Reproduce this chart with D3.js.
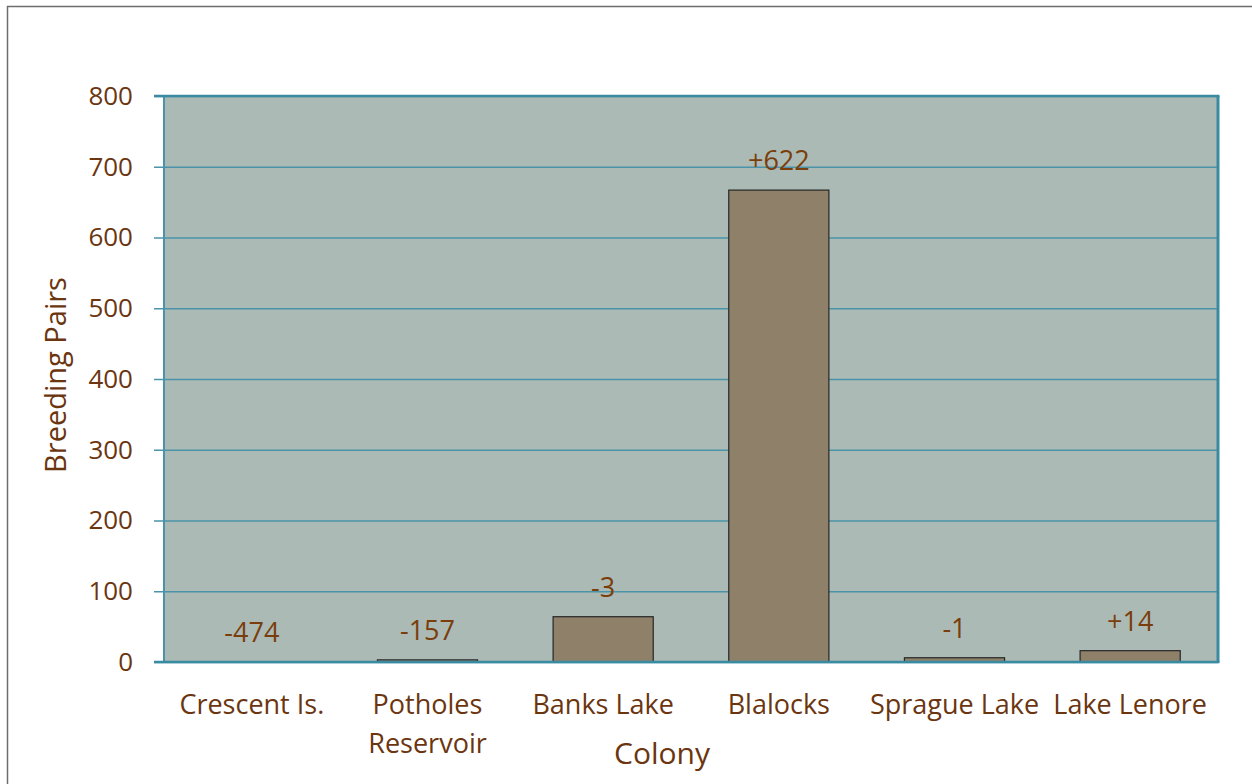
<!DOCTYPE html>
<html>
<head>
<meta charset="utf-8">
<script src="https://cdn.jsdelivr.net/npm/d3@7"></script>
<style>
body { margin: 0; background: #fff; }
text { font-family: "Open Sans", "Noto Sans", sans-serif; fill: #6b3510; }
</style>
</head>
<body>
<div id="chart"></div>
<script>
// Chart data
var colonies = ["Crescent Is.", "Potholes\nReservoir", "Banks Lake", "Blalocks", "Sprague Lake", "Lake Lenore"];
var pairs = [0, 3, 64, 667, 6, 16];
var changes = ["-474", "-157", "-3", "+622", "-1", "+14"];
var yTicks = [0, 100, 200, 300, 400, 500, 600, 700, 800];

var width = 1252;
var height = 784;
var margin = { top: 96, right: 34, bottom: 122, left: 164 };

var svg = d3.select("#chart")
    .append("svg")
    .attr("width", width)
    .attr("height", height);

// outer frame
svg.append("rect")
    .attr("x", 7.5).attr("y", 6.5)
    .attr("width", width).attr("height", height)
    .attr("fill", "none")
    .attr("stroke", "#6d6d6d")
    .attr("stroke-width", 1.5);

var x = d3.scaleBand()
    .domain(colonies)
    .range([margin.left, width - margin.right])
    .paddingInner(0.43)
    .paddingOuter(0.215);

var y = d3.scaleLinear()
    .domain([0, 800])
    .range([height - margin.bottom, margin.top]);

// plot background
svg.append("rect")
    .attr("x", margin.left)
    .attr("y", margin.top)
    .attr("width", width - margin.right - margin.left)
    .attr("height", height - margin.bottom - margin.top)
    .attr("fill", "#abbab5");

// gridlines + ticks
var yAxis = svg.append("g")
    .attr("transform", "translate(" + margin.left + ",0)")
    .call(d3.axisLeft(y)
        .tickValues(yTicks)
        .tickSize(-(width - margin.right - margin.left))
        .tickPadding(31)
        .tickFormat(d3.format("d")));
yAxis.select(".domain").remove();
yAxis.selectAll(".tick line")
    .attr("stroke", "#4a93a8")
    .attr("stroke-width", 1.5)
    .attr("x1", -10);
yAxis.selectAll(".tick text")
    .style("font-size", "26px")
    .style("fill", "#6b3510");

// bars
svg.selectAll("rect.bar")
    .data(colonies)
    .enter()
    .append("rect")
    .attr("class", "bar")
    .attr("x", function(d) { return x(d); })
    .attr("y", function(d, i) { return y(pairs[i]); })
    .attr("width", x.bandwidth())
    .attr("height", function(d, i) { return y(0) - y(pairs[i]); })
    .attr("fill", "#8f806a")
    .attr("stroke", "#262626")
    .attr("stroke-width", 1.2);

// frame lines of plot area
svg.append("line")
    .attr("x1", margin.left).attr("x2", margin.left)
    .attr("y1", margin.top).attr("y2", y(0))
    .attr("stroke", "#4a93a8").attr("stroke-width", 2);
svg.append("line")
    .attr("x1", width - margin.right).attr("x2", width - margin.right)
    .attr("y1", margin.top).attr("y2", y(0))
    .attr("stroke", "#3a8aa2").attr("stroke-width", 3);
svg.append("line")
    .attr("x1", margin.left - 10).attr("x2", width - margin.right + 1.5)
    .attr("y1", margin.top).attr("y2", margin.top)
    .attr("stroke", "#3a8aa2").attr("stroke-width", 2.5);
svg.append("line")
    .attr("x1", margin.left - 10).attr("x2", width - margin.right + 1.5)
    .attr("y1", y(0)).attr("y2", y(0))
    .attr("stroke", "#3a8aa2").attr("stroke-width", 2.5);

// value labels
svg.selectAll("text.val")
    .data(colonies)
    .enter()
    .append("text")
    .attr("class", "val")
    .attr("x", function(d) { return x(d) + x.bandwidth() / 2; })
    .attr("y", function(d, i) { return y(pairs[i]) - 20; })
    .attr("text-anchor", "middle")
    .style("font-size", "27px")
    .style("fill", "#7a3e0c")
    .text(function(d, i) { return changes[i]; });

// category labels
svg.selectAll("text.cat")
    .data(colonies)
    .enter()
    .append("text")
    .attr("class", "cat")
    .attr("x", function(d) { return x(d) + x.bandwidth() / 2; })
    .attr("y", 714)
    .attr("text-anchor", "middle")
    .style("font-size", "27px")
    .each(function(d) {
        var lines = d.split("\n");
        var t = d3.select(this);
        lines.forEach(function(l, i) {
            t.append("tspan")
                .attr("x", x(d) + x.bandwidth() / 2)
                .attr("dy", i === 0 ? 0 : 39)
                .text(l);
        });
    });

// axis titles
svg.append("text")
    .attr("x", 662)
    .attr("y", 764)
    .attr("text-anchor", "middle")
    .style("font-size", "30px")
    .text("Colony");

svg.append("text")
    .attr("transform", "translate(66,375) rotate(-90)")
    .attr("text-anchor", "middle")
    .style("font-size", "29px")
    .text("Breeding Pairs");
</script>
</body>
</html>
